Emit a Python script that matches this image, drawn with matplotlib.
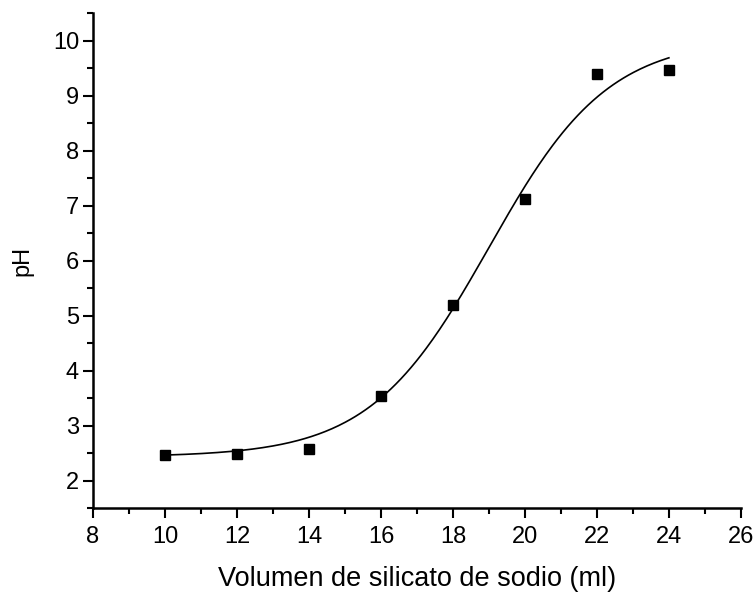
import numpy as np
import matplotlib
matplotlib.use("Agg")
import matplotlib.pyplot as plt
from matplotlib.ticker import MultipleLocator

plt.rcParams['font.family'] = ['Liberation Sans', 'DejaVu Sans']

# Data
volume_ml = [10, 12, 14, 16, 18, 20, 22, 24]
ph_values = [2.47, 2.49, 2.58, 3.53, 5.20, 7.13, 9.40, 9.47]

# Boltzmann sigmoidal fit parameters (estimated from the drawn curve)
fit_A1 = 2.43
fit_A2 = 10.05
fit_x0 = 19.0
fit_dx = 1.66

fig = plt.figure(figsize=(7.56, 5.93), dpi=100)
ax = fig.add_axes([0.123, 0.1433, 0.857, 0.834])

xfit = np.linspace(min(volume_ml), max(volume_ml), 300)
yfit = fit_A2 + (fit_A1 - fit_A2) / (1 + np.exp((xfit - fit_x0) / fit_dx))
ax.plot(xfit, yfit, color='black', lw=1.2, zorder=2)
ax.plot(volume_ml, ph_values, linestyle='none', marker='s', ms=7.5,
        color='black', zorder=3)

ax.set_xlim(8, 26)
ax.set_ylim(1.5, 10.5)
ax.xaxis.set_major_locator(MultipleLocator(2))
ax.xaxis.set_minor_locator(MultipleLocator(1))
ax.yaxis.set_major_locator(MultipleLocator(1))
ax.yaxis.set_minor_locator(MultipleLocator(0.5))

for s in ['top', 'right']:
    ax.spines[s].set_visible(False)
for s in ['left', 'bottom']:
    ax.spines[s].set_linewidth(1.8)

ax.tick_params(which='major', direction='out', length=7, width=1.5,
               labelsize=17, pad=3)
ax.tick_params(which='minor', direction='out', length=4, width=1.5)
ax.tick_params(axis='x', which='major', pad=6)

ax.set_xlabel('Volumen de silicato de sodio (ml)', fontsize=19.5, labelpad=13)
ax.set_ylabel('pH', fontsize=17, labelpad=14)

fig.savefig('out.png', dpi=100)
